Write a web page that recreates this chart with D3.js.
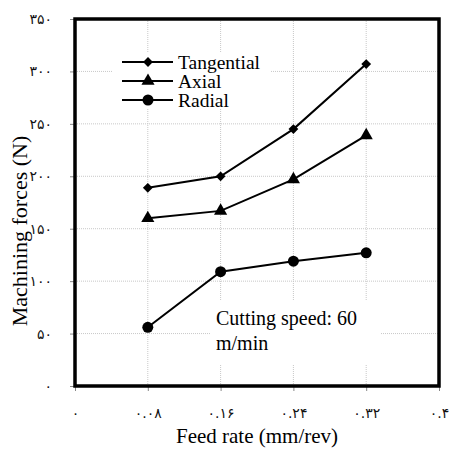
<!DOCTYPE html>
<html><head><meta charset="utf-8">
<script src="https://cdn.jsdelivr.net/npm/d3@7"></script>
<style>body{margin:0;background:#fff}svg{display:block}</style>
</head><body>
<script>
const feedRates = [0.08, 0.16, 0.24, 0.32];
const tangential = [189, 200, 245, 307];
const axial = [160, 167, 197, 239];
const radial = [56, 109, 119, 127];
const seriesNames = ["Tangential", "Axial", "Radial"];
const xTicks = [0, 0.08, 0.16, 0.24, 0.32, 0.4];
const xTickLabels = ["۰", "۰.۰۸", "۰.۱۶", "۰.۲۴", "۰.۳۲", "۰.۴"];
const yTicks = [0, 50, 100, 150, 200, 250, 300, 350];
const yTickLabels = ["۰", "۵۰", "۱۰۰", "۱۵۰", "۲۰۰", "۲۵۰", "۳۰۰", "۳۵۰"];

const W = 449, H = 450;
const svg = d3.select("body").append("svg").attr("width", W).attr("height", H);
const x = d3.scaleLinear().domain([0, 0.4]).range([75, 439]);
const y = d3.scaleLinear().domain([0, 350]).range([386, 19]);
const serif = "'Liberation Serif','Times New Roman',serif";

// grid
const g = svg.append("g");
g.selectAll("line.hg").data(yTicks.slice(1, -1)).join("line")
  .attr("x1", x(0)).attr("x2", x(0.4)).attr("y1", d => y(d)).attr("y2", d => y(d))
  .attr("stroke", "#c8c8c8").attr("stroke-width", 1).attr("stroke-dasharray", "1,1");
g.selectAll("line.vg").data(xTicks.slice(1, -1)).join("line")
  .attr("y1", y(0)).attr("y2", y(350)).attr("x1", d => x(d)).attr("x2", d => x(d))
  .attr("stroke", "#c8c8c8").attr("stroke-width", 1).attr("stroke-dasharray", "1,1");

// axis titles (drawn under tick labels)
svg.append("text").attr("x", x(0.2)).attr("y", 443).attr("text-anchor", "middle")
  .attr("font-family", serif).attr("font-size", 21).text("Feed rate (mm/rev)");
svg.append("text").attr("transform", `translate(27,231) rotate(-90)`).attr("text-anchor", "middle")
  .attr("font-family", serif).attr("font-size", 22).text("Machining forces (N)");

// axes ticks
const xAxis = d3.axisBottom(x).tickValues(xTicks).tickSize(5).tickFormat((d, i) => xTickLabels[i]);
const yAxis = d3.axisLeft(y).tickValues(yTicks).tickSize(5).tickFormat((d, i) => yTickLabels[i]);
const gx = svg.append("g").attr("transform", `translate(0,${y(0)})`).call(xAxis);
const gy = svg.append("g").attr("transform", `translate(${x(0)},0)`).call(yAxis);
[gx, gy].forEach(a => {
  a.select(".domain").remove();
  a.selectAll(".tick line").attr("stroke", "#888");
  a.selectAll(".tick text").attr("fill", "#111").attr("font-size", 14)
    .attr("font-family", "'DejaVu Sans', sans-serif");
});
gx.selectAll(".tick text").attr("dy", 0).attr("y", 32);
gy.selectAll(".tick text").attr("x", -23).attr("dy", "0.32em");

// legend background and annotation background
svg.append("rect").attr("x", 112).attr("y", 53).attr("width", 158).attr("height", 56).attr("fill", "#fff");
svg.append("rect").attr("x", 210).attr("y", 300).attr("width", 170).attr("height", 65).attr("fill", "#fff");

// plot border
svg.append("rect").attr("x", x(0)).attr("y", y(350)).attr("width", x(0.4) - x(0)).attr("height", y(0) - y(350))
  .attr("fill", "none").attr("stroke", "#000").attr("stroke-width", 3.5);

const series = [tangential, axial, radial];
const symbols = [d3.symbolSquare, d3.symbolTriangle, d3.symbolCircle];
const sizes = [48, 75, 95];
const rots = [45, 0, 0];
const line = d3.line().x((d, i) => x(feedRates[i])).y(d => y(d));
series.forEach((s, k) => {
  svg.append("path").attr("d", line(s)).attr("fill", "none").attr("stroke", "#000").attr("stroke-width", 2);
  svg.selectAll(null).data(s).join("path")
    .attr("transform", (d, i) => `translate(${x(feedRates[i])},${y(d)}) rotate(${rots[k]})`)
    .attr("d", d3.symbol().type(symbols[k]).size(sizes[k])).attr("fill", "#000");
});

// legend
const ly = [62, 81, 100];
seriesNames.forEach((n, k) => {
  svg.append("line").attr("x1", 122).attr("x2", 173).attr("y1", ly[k]).attr("y2", ly[k])
    .attr("stroke", "#000").attr("stroke-width", 2);
  svg.append("path").attr("transform", `translate(148,${ly[k]}) rotate(${rots[k]})`)
    .attr("d", d3.symbol().type(symbols[k]).size(sizes[k])).attr("fill", "#000");
  svg.append("text").attr("x", 178).attr("y", ly[k]).attr("dy", "0.35em")
    .attr("font-family", serif).attr("font-size", 19.5).text(n);
});

// annotation
svg.append("text").attr("x", 216).attr("y", 325).attr("font-family", serif).attr("font-size", 20).text("Cutting speed: 60");
svg.append("text").attr("x", 216).attr("y", 350).attr("font-family", serif).attr("font-size", 20).text("m/min");
</script>
</body></html>
